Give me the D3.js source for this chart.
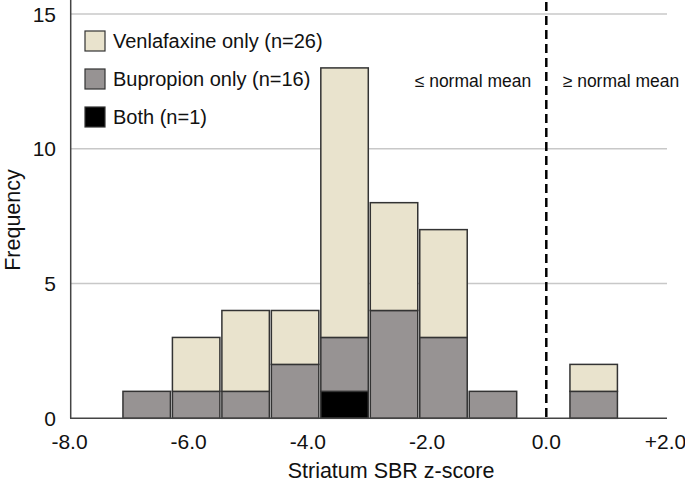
<!DOCTYPE html>
<html>
<head>
<meta charset="utf-8">
<script src="https://cdn.jsdelivr.net/npm/d3@7"></script>
<style>
  html, body { margin: 0; padding: 0; background: #fff; }
  svg { display: block; font-family: "Liberation Sans", Arial, sans-serif; }
</style>
</head>
<body>
<svg id="chart" width="685" height="484"></svg>
<script>
// ---- data ----
const binStarts = [-7.12, -6.29, -5.46, -4.63, -3.80, -2.97, -2.14, -1.31, -0.48, 0.38];
const binWidth = 0.83;
const bothCounts = [0, 0, 0, 0, 1, 0, 0, 0, 0, 0];
const bupropionCounts = [1, 1, 1, 2, 2, 4, 3, 1, 0, 1];
const venlafaxineCounts = [0, 2, 3, 2, 10, 4, 4, 0, 0, 1];
const seriesKeys = ["both", "bupropion", "venlafaxine"];
const legendLabels = ["Venlafaxine only (n=26)", "Bupropion only (n=16)", "Both (n=1)"];
const xTickValues = [-8, -6, -4, -2, 0, 2];
const xTickLabels = ["-8.0", "-6.0", "-4.0", "-2.0", "0.0", "+2.0"];
const yTickValues = [0, 5, 10, 15];
const regionLabels = ["\u2264 normal mean", "\u2265 normal mean"];

const colors = { venlafaxine: "#e9e3cd", bupropion: "#979393", both: "#000000" };

const svg = d3.select("#chart");
const x = d3.scaleLinear().domain([-8, 2]).range([69.5, 665.5]);
const y = d3.scaleLinear().domain([0, 15]).range([418.3, 14]);

// gridlines
svg.append("g").selectAll("line").data(yTickValues.filter(d => d > 0)).join("line")
  .attr("x1", 71).attr("x2", 667)
  .attr("y1", d => y(d)).attr("y2", d => y(d))
  .attr("stroke", "#c8c8c8").attr("stroke-width", 1.5);

// stacked data
const table = binStarts.map((s, i) => ({
  x0: s, x1: s + binWidth,
  both: bothCounts[i], bupropion: bupropionCounts[i], venlafaxine: venlafaxineCounts[i]
}));
const stack = d3.stack().keys(seriesKeys)(table);

svg.append("g").selectAll("g").data(stack).join("g")
  .attr("fill", d => colors[d.key])
  .selectAll("rect").data(d => d.filter(p => p[1] - p[0] > 0)).join("rect")
  .attr("x", d => x(d.data.x0) + 1)
  .attr("width", d => x(d.data.x1) - x(d.data.x0) - 2)
  .attr("y", d => y(d[1]))
  .attr("height", d => y(d[0]) - y(d[1]))
  .attr("stroke", "#333").attr("stroke-width", 1.5);

// axes lines
svg.append("line").attr("x1", 70.7).attr("x2", 70.7).attr("y1", 0).attr("y2", 418.3)
  .attr("stroke", "#444").attr("stroke-width", 1.5);
svg.append("line").attr("x1", 70).attr("x2", 667).attr("y1", 418.3).attr("y2", 418.3)
  .attr("stroke", "#444").attr("stroke-width", 1.5);

// dashed line at zero
svg.append("line").attr("x1", x(0)).attr("x2", x(0)).attr("y1", 2).attr("y2", 422)
  .attr("stroke", "#000").attr("stroke-width", 2.5).attr("stroke-dasharray", "9,5");

// y tick labels
svg.append("g").selectAll("text").data(yTickValues).join("text")
  .attr("x", 56).attr("y", d => y(d)).attr("dy", "0.36em")
  .attr("text-anchor", "end").attr("font-size", 21).attr("fill", "#111")
  .text(d => d);

// x tick labels
svg.append("g").selectAll("text").data(xTickValues).join("text")
  .attr("x", d => x(d)).attr("y", 449)
  .attr("text-anchor", "middle").attr("font-size", 21).attr("fill", "#111")
  .text((d, i) => xTickLabels[i]);

// axis titles
svg.append("text").attr("x", 391).attr("y", 478).attr("text-anchor", "middle")
  .attr("font-size", 21.5).attr("fill", "#111").text("Striatum SBR z-score");
svg.append("text").attr("transform", "translate(20,220) rotate(-90)")
  .attr("text-anchor", "middle").attr("font-size", 21.5).attr("fill", "#111").text("Frequency");

// region labels
svg.append("text").attr("x", 473).attr("y", 87).attr("text-anchor", "middle")
  .attr("font-size", 17.5).attr("fill", "#111").text(regionLabels[0]);
svg.append("text").attr("x", 621).attr("y", 87).attr("text-anchor", "middle")
  .attr("font-size", 17.5).attr("fill", "#111").text(regionLabels[1]);

// legend
const legendKeys = ["venlafaxine", "bupropion", "both"];
const lg = svg.append("g").selectAll("g").data(legendKeys).join("g")
  .attr("transform", (d, i) => `translate(85,${31 + i * 38})`);
lg.append("rect").attr("width", 20).attr("height", 20)
  .attr("fill", d => colors[d]).attr("stroke", "#333").attr("stroke-width", 1.2);
lg.append("text").attr("x", 28).attr("y", 10).attr("dy", "0.36em")
  .attr("font-size", 20).attr("fill", "#111").text((d, i) => legendLabels[i]);
</script>
</body>
</html>
